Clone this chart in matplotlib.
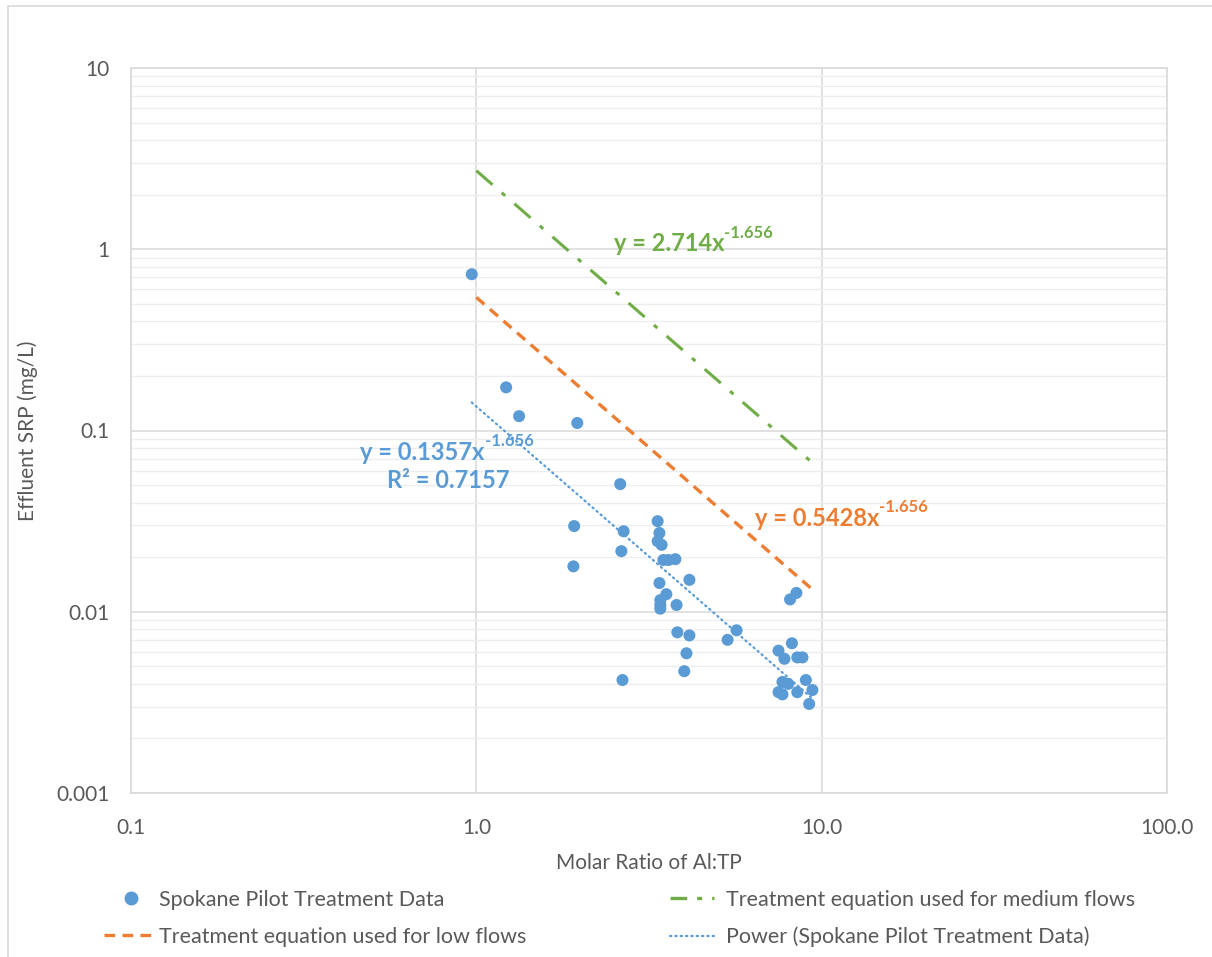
import numpy as np
import matplotlib.pyplot as plt
from matplotlib.lines import Line2D
from matplotlib.patches import Rectangle

plt.rcParams['font.family'] = ['Lato', 'DejaVu Sans']

# pilot data: Al:TP molar ratio vs effluent SRP (mg/L)
ratio = [0.97, 1.22, 1.33, 1.96, 2.61, 1.92, 1.91, 2.67, 2.63, 2.65,
         3.35, 3.39, 3.35, 3.44, 3.48, 3.60, 3.77, 3.39, 4.14, 3.55,
         3.41, 3.41, 3.41, 3.80, 3.82, 4.14, 4.06, 4.00, 5.34, 5.67,
         8.10, 8.45, 8.20, 7.50, 7.80, 8.50, 8.80, 7.70, 8.00, 9.00,
         7.50, 7.70, 8.50, 9.40, 9.20]
srp = [0.728, 0.173, 0.120, 0.110, 0.0506, 0.0297, 0.0178, 0.0278, 0.0216, 0.0042,
       0.0316, 0.0272, 0.0245, 0.0234, 0.0193, 0.0193, 0.0195, 0.0144, 0.0150, 0.0125,
       0.0116, 0.0109, 0.0104, 0.0109, 0.0077, 0.0074, 0.0059, 0.0047, 0.0070, 0.0079,
       0.0117, 0.0127, 0.0067, 0.0061, 0.0055, 0.0056, 0.0056, 0.0041, 0.0040, 0.0042,
       0.0036, 0.0035, 0.0036, 0.0037, 0.0031]

# power-law fits y = a * x^b
b_exp = -1.656
a_fit = 0.1357
a_low = 0.5428
a_med = 2.714
r2_fit = 0.7157
eq_range = (1.0, 9.4)

xtick_vals = [0.1, 1, 10, 100]
xtick_lbls = ['0.1', '1.0', '10.0', '100.0']
ytick_vals = [0.001, 0.01, 0.1, 1, 10]
ytick_lbls = ['0.001', '0.01', '0.1', '1', '10']

blue = '#5B9BD5'
orange = '#ED7D31'
green = '#70AD47'
txt = '#595959'
grid = '#D9D9D9'

fig = plt.figure(figsize=(12.12, 9.57), dpi=100)
ax = fig.add_axes([131/1212, 1-793/957, (1167-131)/1212, (793-68)/957])

ax.set_xscale('log')
ax.set_yscale('log')
ax.set_xlim(0.1, 100)
ax.set_ylim(0.001, 10)

xe = np.geomspace(*eq_range, 50)
xf = np.geomspace(min(ratio), max(ratio), 50)

ax.plot(xe, a_med * xe**b_exp, color=green, lw=2.2, dashes=(7, 4, 1.5, 4), zorder=3)
ax.plot(xe, a_low * xe**b_exp, color=orange, lw=2.4, dashes=(3.2, 2.2), zorder=3)
ax.plot(xf, a_fit * xf**b_exp, color=blue, lw=1.6, linestyle=(0, (0.6, 1.8)),
        dash_capstyle='round', zorder=3)
ax.scatter(ratio, srp, s=75, color=blue, edgecolor='none', zorder=4)

ax.set_xticks(xtick_vals)
ax.set_xticklabels(xtick_lbls)
ax.set_yticks(ytick_vals)
ax.set_yticklabels(ytick_lbls)
ax.xaxis.set_minor_locator(plt.NullLocator())
ax.tick_params(which='both', length=0, labelsize=15, labelcolor=txt)
ax.tick_params(axis='y', pad=15.5)
ax.tick_params(axis='x', pad=18)
ax.grid(True, which='major', color=grid, lw=1.1)
ax.grid(True, which='minor', axis='y', color='#EDEDED', lw=1.0)
ax.set_axisbelow(True)
for s in ax.spines.values():
    s.set_color(grid)
    s.set_linewidth(1.2)

ax.set_xlabel('Molar Ratio of Al:TP', fontsize=15, color=txt, labelpad=11)
ax.set_ylabel('Effluent SRP (mg/L)', fontsize=15, color=txt)
ax.yaxis.set_label_coords(-0.09, 0.5)

# equation labels with superscript exponent
def eq_label(x, y, text, color, ha='left'):
    t = ax.text(x, y, text, color=color, fontsize=17, fontweight='bold',
                ha=ha, va='center')
    ax.annotate(f'{b_exp:.3f}', xy=(1, 0.62), xycoords=t, color=color,
                fontsize=12, fontweight='bold', va='bottom', ha='left')
    return t

eq_label(2.5, 1.07, f'y = {a_med}x', green)
eq_label(6.4, 0.0328, f'y = {a_low}x', orange)
eq_label(0.461, 0.076, f'y = {a_fit}x', blue)
ax.text(0.83, 0.0532, f'R² = {r2_fit}', color=blue, fontsize=17,
        fontweight='bold', ha='center', va='center')

# legend entries laid out in two rows
fs = 15.5
px = fs * 100 / 72
entries = [
    (Line2D([], [], marker='o', ls='none', color=blue, markersize=9),
     'Spokane Pilot Treatment Data', 121, 900, 20/px, 18/px),
    (Line2D([], [], color=green, lw=2.4, dashes=(5, 3, 1.5, 3)),
     'Treatment equation used for medium flows', 670, 900, 44/px, 12/px),
    (Line2D([], [], color=orange, lw=2.4, dashes=(3.2, 2.2)),
     'Treatment equation used for low flows', 104, 937, 51/px, 4/px),
    (Line2D([], [], color=blue, lw=1.6, linestyle=(0, (0.6, 1.8)), dash_capstyle='round'),
     'Power (Spokane Pilot Treatment Data)', 670, 937, 44/px, 12/px),
]
for h, lbl, x0, y0, hl, tp in entries:
    fig.legend(handles=[h], labels=[lbl], loc='center left',
               bbox_to_anchor=(x0/1212, 1 - y0/957), frameon=False,
               fontsize=fs, labelcolor=txt, borderpad=0, borderaxespad=0,
               handlelength=hl, handletextpad=tp)

fig.add_artist(Rectangle((8/1212, -0.1), 1.2, 1 - 6/957 + 0.1,
                         transform=fig.transFigure, fill=False,
                         edgecolor=grid, lw=1.2))

fig.savefig('out.png', dpi=100)
